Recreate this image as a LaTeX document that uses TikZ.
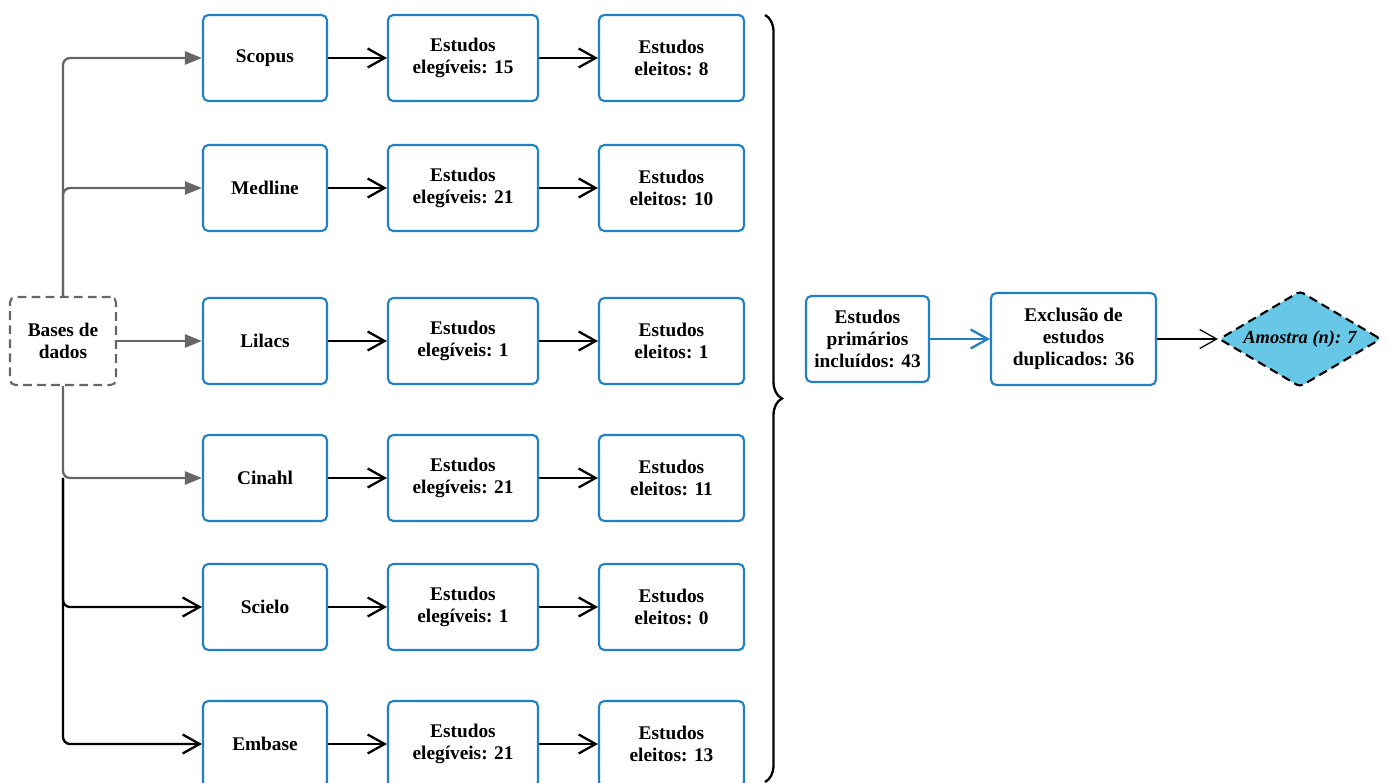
\documentclass[tikz,border=0pt]{standalone}
\usepackage{fontspec}
\setmainfont{Liberation Serif}
\usetikzlibrary{arrows.meta}
\usetikzlibrary{shapes.geometric}
\usetikzlibrary{decorations.pathreplacing}
\definecolor{caixaazul}{RGB}{31,128,196}
\definecolor{losango}{RGB}{102,200,230}
\definecolor{cinza}{RGB}{102,102,102}

\begin{document}
\begin{tikzpicture}[x=0.02cm,y=-0.02cm]
\useasboundingbox (0,0) rectangle (1389,783);

\begin{scope}[every node/.style={rectangle,rounded corners=3pt,draw=caixaazul,line width=1.2pt,
              align=center,font=\bfseries\fontsize{11}{12.5}\selectfont,minimum height=1.72cm}]
    \node[minimum width=2.48cm] (scopus) at (265,58) {Scopus};
    \node[minimum width=2.48cm] (medline) at (265,188) {Medline};
    \node[minimum width=2.48cm] (lilacs) at (265,341) {Lilacs};
    \node[minimum width=2.48cm] (cinahl) at (265,478) {Cinahl};
    \node[minimum width=2.48cm] (scielo) at (265,607) {Scielo};
    \node[minimum width=2.48cm] (embase) at (265,744) {Embase};

    \node[minimum width=3cm] (eleg1) at (463,58) {Estudos\\elegíveis: 15};
    \node[minimum width=3cm] (eleg2) at (463,188) {Estudos\\elegíveis: 21};
    \node[minimum width=3cm] (eleg3) at (463,341) {Estudos\\elegíveis: 1};
    \node[minimum width=3cm] (eleg4) at (463,478) {Estudos\\elegíveis: 21};
    \node[minimum width=3cm] (eleg5) at (463,607) {Estudos\\elegíveis: 1};
    \node[minimum width=3cm] (eleg6) at (463,744) {Estudos\\elegíveis: 21};

    \node[minimum width=2.9cm] (eleit1) at (671.5,58) {Estudos\\eleitos: 8};
    \node[minimum width=2.9cm] (eleit2) at (671.5,188) {Estudos\\eleitos: 10};
    \node[minimum width=2.9cm] (eleit3) at (671.5,341) {Estudos\\eleitos: 1};
    \node[minimum width=2.9cm] (eleit4) at (671.5,478) {Estudos\\eleitos: 11};
    \node[minimum width=2.9cm] (eleit5) at (671.5,607) {Estudos\\eleitos: 0};
    \node[minimum width=2.9cm] (eleit6) at (671.5,744) {Estudos\\eleitos: 13};

    \node[minimum width=2.46cm] (incluidos) at (867.5,339) {Estudos\\primários\\incluídos: 43};
    \node[minimum width=3.3cm,minimum height=1.84cm] (exclusao) at (1073.5,339) {Exclusão de\\estudos\\duplicados: 36};
    \node[draw=cinza,dash pattern=on 5pt off 3pt,minimum width=2.12cm,minimum height=1.76cm] (bases) at (63,341) {Bases de\\dados};
    \node[diamond,rounded corners=2pt,draw=black,fill=losango,dash pattern=on 5pt off 3pt,aspect=1.69,inner sep=0pt,
          minimum width=3.24cm,minimum height=1.92cm,font=\bfseries\itshape\fontsize{10.5}{12}\selectfont] (amostra) at (1300,339) {Amostra (n): 7};
\end{scope}

\coordinate (juncao) at (63,478);

% ramos das bases
\begin{scope}[line width=1.3pt,rounded corners=4pt]
    \draw[cinza,-{Triangle[length=3.4mm,width=2.6mm]}] (bases.north) |- (scopus);
    \draw[cinza,-{Triangle[length=3.4mm,width=2.6mm]}] (bases.north) |- (medline);
    \draw[cinza,-{Triangle[length=3.4mm,width=2.6mm]}] (bases) -- (lilacs);
    \draw[cinza,-{Triangle[length=3.4mm,width=2.6mm]}] (bases.south) |- (cinahl);
    \draw[black,-{Straight Barb[length=3.4mm,width=3.8mm]}] (juncao) |- (scielo);
    \draw[black,-{Straight Barb[length=3.4mm,width=3.8mm]}] (juncao) |- (embase);
\end{scope}

\begin{scope}[>={Straight Barb[length=3.4mm,width=3.8mm]},
              every edge/.style={draw=black,line width=1.3pt}]
    \path [->] (scopus) edge (eleg1) (eleg1) edge (eleit1);
    \path [->] (medline) edge (eleg2) (eleg2) edge (eleit2);
    \path [->] (lilacs) edge (eleg3) (eleg3) edge (eleit3);
    \path [->] (cinahl) edge (eleg4) (eleg4) edge (eleit4);
    \path [->] (scielo) edge (eleg5) (eleg5) edge (eleit5);
    \path [->] (embase) edge (eleg6) (eleg6) edge (eleit6);
    \path [->] (incluidos) edge[draw=caixaazul] (exclusao);
    \path [->] (exclusao) edge[line width=0.7pt] (amostra);
\end{scope}

\draw[line width=1.3pt,decorate,decoration={brace,amplitude=0.34cm}] (765,15) -- (765,782);

\end{tikzpicture}
\end{document}
